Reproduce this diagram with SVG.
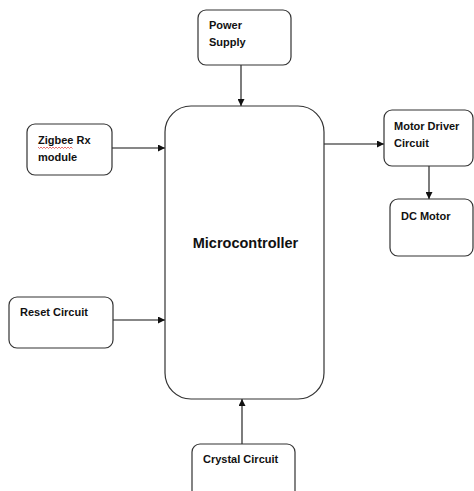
<svg xmlns="http://www.w3.org/2000/svg" width="474" height="491" viewBox="0 0 474 491">
<style>
.box{fill:#fff;stroke:#333;stroke-width:1.2}
.lbl{font-family:"Liberation Sans",Arial,sans-serif;font-weight:bold;font-size:11px;fill:#111}
.big{font-family:"Liberation Sans",Arial,sans-serif;font-weight:bold;font-size:14.5px;fill:#111}
.conn{stroke:#111;stroke-width:1.1;fill:none;marker-end:url(#ah)}
</style>
<defs>
<marker id="ah" viewBox="0 0 10 10" refX="10" refY="5" markerWidth="7" markerHeight="7" markerUnits="userSpaceOnUse" orient="auto">
<path d="M0,0 L10,5 L0,10 z" fill="#111"/>
</marker>
</defs>
<rect width="474" height="491" fill="#fff"/>
<g id="connectors">
<line class="conn" x1="241" y1="65" x2="241" y2="106"/>
<line class="conn" x1="112" y1="148" x2="165" y2="148"/>
<line class="conn" x1="324" y1="144" x2="384" y2="144"/>
<line class="conn" x1="429" y1="166" x2="429" y2="199"/>
<line class="conn" x1="113" y1="320" x2="165" y2="320"/>
<line class="conn" x1="242" y1="444" x2="242" y2="399"/>
</g>
<g id="power">
<rect class="box" x="198" y="10" width="93" height="55" rx="8"/>
<text class="lbl" x="209" y="29">Power</text>
<text class="lbl" x="209" y="46">Supply</text>
</g>
<g id="microcontroller">
<rect class="box" x="165" y="106" width="159" height="293" rx="26"/>
<text class="big" x="245.5" y="248" text-anchor="middle">Microcontroller</text>
</g>
<g id="zigbee">
<rect class="box" x="27" y="124" width="85" height="51" rx="8"/>
<text class="lbl" x="38" y="144">Zigbee Rx</text>
<path d="M38,147 l1.5,1.5 l1.5,-1.5 l1.5,1.5 l1.5,-1.5 l1.5,1.5 l1.5,-1.5 l1.5,1.5 l1.5,-1.5 l1.5,1.5 l1.5,-1.5 l1.5,1.5 l1.5,-1.5 l1.5,1.5 l1.5,-1.5 l1.5,1.5 l1.5,-1.5 l1.5,1.5 l1.5,-1.5 l1.5,1.5 l1.5,-1.5 l1.5,1.5 l1.5,-1.5 l1.5,1.5" fill="none" stroke="#e03030" stroke-width="0.7"/>
<text class="lbl" x="38" y="161">module</text>
</g>
<g id="motor-driver">
<rect class="box" x="384" y="110" width="89" height="56" rx="8"/>
<text class="lbl" x="394" y="130">Motor Driver</text>
<text class="lbl" x="394" y="147">Circuit</text>
</g>
<g id="dc-motor">
<rect class="box" x="390" y="199" width="83" height="57" rx="8"/>
<text class="lbl" x="401" y="220">DC Motor</text>
</g>
<g id="reset">
<rect class="box" x="9" y="297" width="104" height="51" rx="8"/>
<text class="lbl" x="20" y="316">Reset Circuit</text>
</g>
<g id="crystal">
<rect class="box" x="192" y="444" width="103" height="60" rx="8"/>
<text class="lbl" x="203" y="463">Crystal Circuit</text>
</g>
</svg>
